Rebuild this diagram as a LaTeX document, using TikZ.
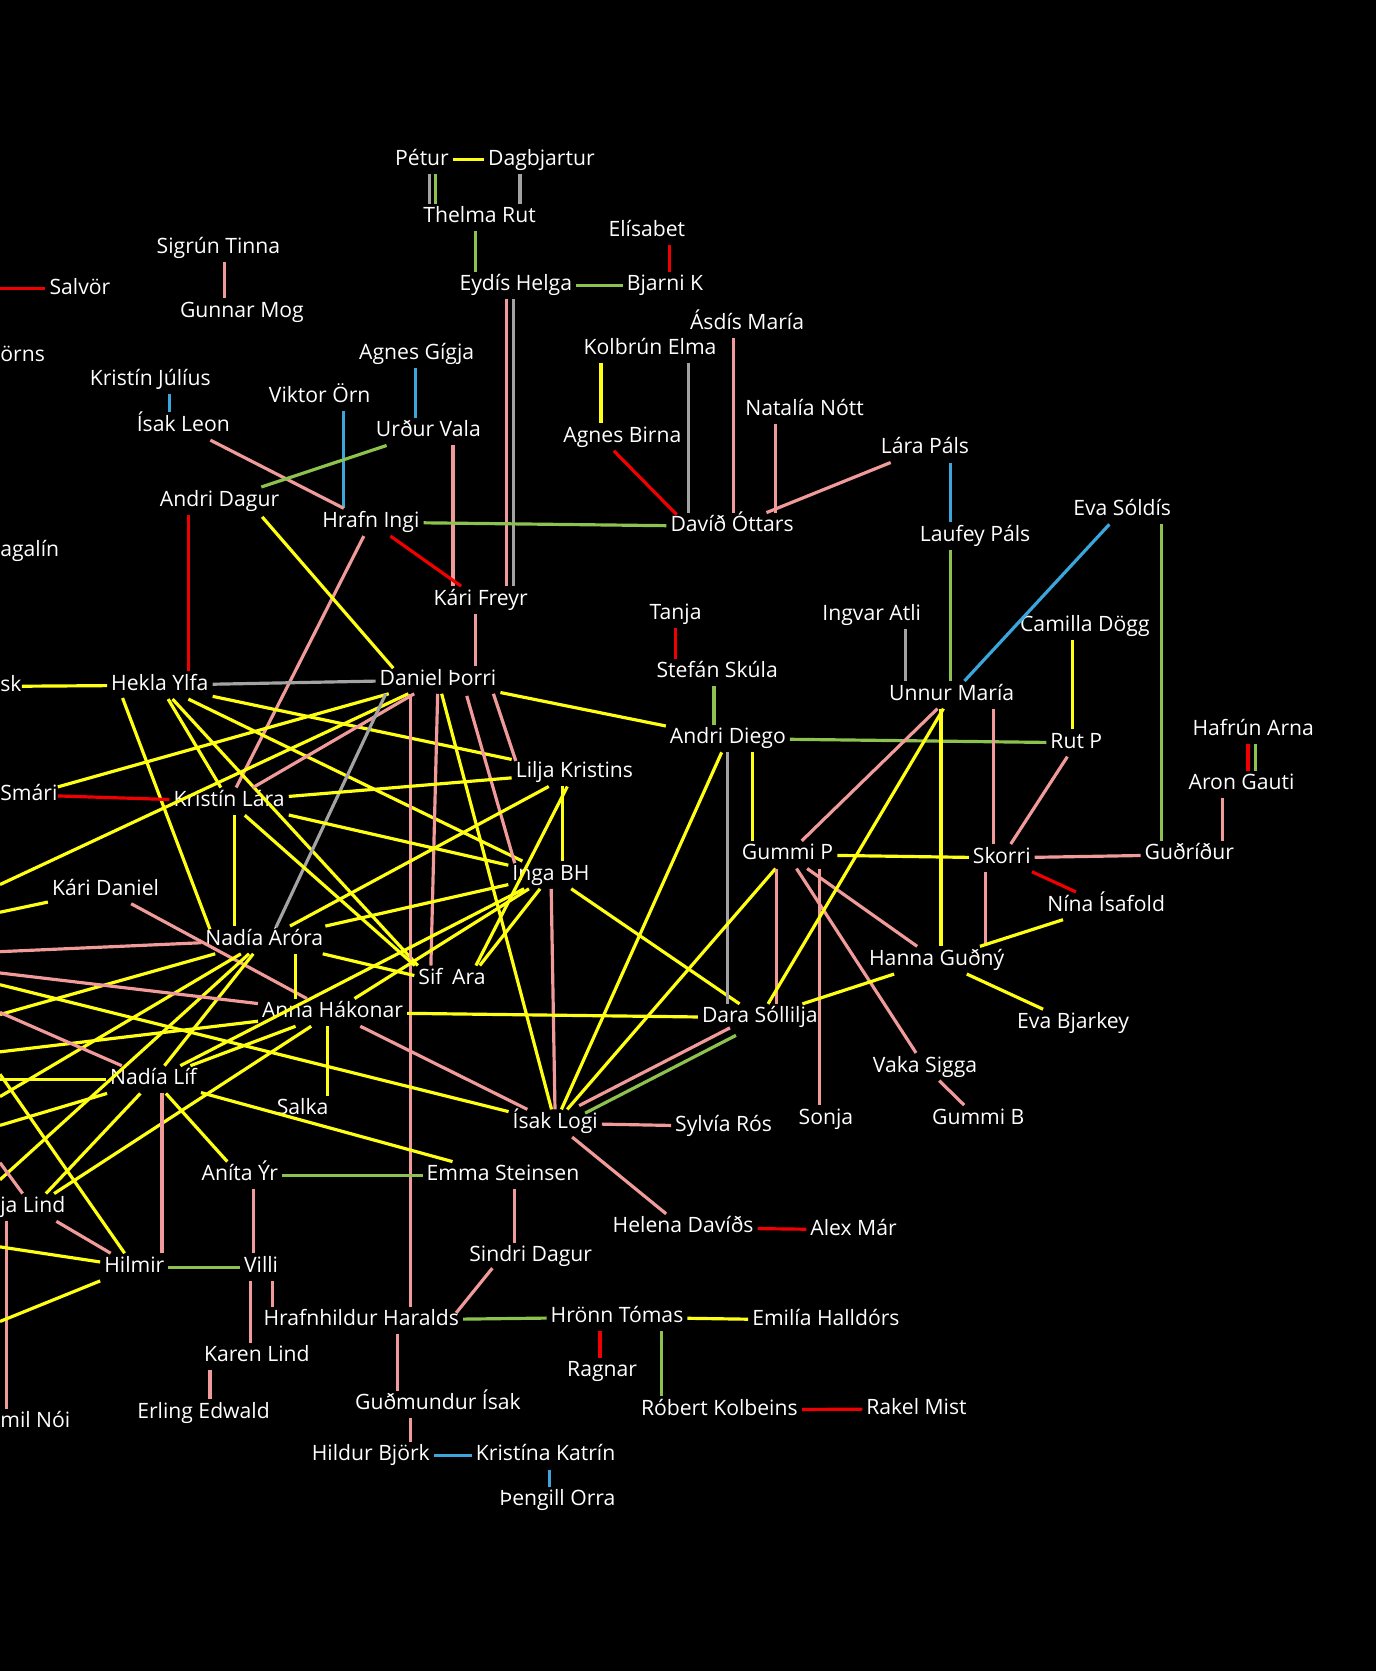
\documentclass[tikz,border=0pt]{standalone}
\usepackage{fontspec}
\setmainfont{Open Sans}
\usepackage{xcolor}
\usetikzlibrary{calc}
\definecolor{ylw}{HTML}{FFFF14}
\definecolor{pnk}{HTML}{F09A9A}
\definecolor{rdx}{HTML}{F00000}
\definecolor{grn}{HTML}{8DC24F}
\definecolor{gry}{HTML}{A3A3A3}
\definecolor{blu}{HTML}{3AA6DC}
\tikzset{
  nm/.style={text=white,font=\fontsize{11.3}{13}\selectfont,inner sep=2pt,text height=8pt,text depth=2.4pt},
  lft/.style={nm,anchor=west,inner xsep=0pt},
  ye/.style={ylw,line width=1.7pt},
  pk/.style={pnk,line width=1.7pt},
  rd/.style={rdx,line width=1.7pt},
  gn/.style={grn,line width=1.7pt},
  gy/.style={gry,line width=1.7pt},
  bl/.style={blu,line width=1.7pt}
}
\newcommand{\vln}[4]{%
  \coordinate (vt) at ([xshift=#4*0.02cm]#2.south);
  \draw[#1] (vt) -- (vt |- #3.north);}
\newcommand{\lnk}[5]{\draw[#1] ($(#2)+(#3)$) -- ($(#4)+(#5)$);}
\begin{document}
\begin{tikzpicture}[x=0.02cm,y=-0.02cm]
\useasboundingbox (0,0) rectangle (1291,1568);
\fill[black] (-10,-10) rectangle (1301,1578);
\node[nm] (petur) at (396,150) {Pétur};
\node[nm] (dagbj) at (508,150) {Dagbjartur};
\node[nm] (thelma) at (450,204) {Thelma Rut};
\node[nm] (elisa) at (607,217) {Elísabet};
\node[nm] (eydis) at (484,268) {Eydís Helga};
\node[nm] (bjarni) at (624,268) {Bjarni K};
\node[nm] (sigrun) at (205,233) {Sigrún Tinna};
\node[nm] (gunnar) at (227,293) {Gunnar Mog};
\node[nm] (salvor) at (75,271) {Salvör};
\node[lft] (orns) at (0,334) {örns};
\node[nm] (kjul) at (141,357) {Kristín Júlíus};
\node[nm] (ileon) at (172,400) {Ísak Leon};
\node[nm] (agigja) at (391,332) {Agnes Gígja};
\node[nm] (viktor) at (300,373) {Viktor Örn};
\node[nm] (urdur) at (402,405) {Urður Vala};
\node[nm] (adagur) at (206,470) {Andri Dagur};
\node[nm] (hrafn) at (348,490) {Hrafn Ingi};
\node[lft] (agalin) at (0,517) {agalín};
\node[nm] (kfreyr) at (451,563) {Kári Freyr};
\node[nm] (kolb) at (610,328) {Kolbrún Elma};
\node[nm] (asdis) at (701,304) {Ásdís María};
\node[nm] (abirna) at (584,410) {Agnes Birna};
\node[nm] (natalia) at (755,385) {Natalía Nótt};
\node[nm] (lara) at (868,421) {Lára Páls};
\node[nm] (david) at (687,494) {Davíð Óttars};
\node[nm] (laufey) at (915,503) {Laufey Páls};
\node[nm] (evas) at (1053,479) {Eva Sóldís};
\node[nm] (tanja) at (634,576) {Tanja};
\node[nm] (ingvar) at (818,577) {Ingvar Atli};
\node[nm] (camilla) at (1018,588) {Camilla Dögg};
\node[nm] (stefan) at (673,631) {Stefán Skúla};
\node[nm] (unnur) at (893,652) {Unnur María};
\node[nm] (dthorri) at (411,638) {Daniel Þorri};
\node[nm] (hekla) at (150,643) {Hekla Ylfa};
\node[lft] (sk) at (0,644) {sk};
\node[nm] (adiego) at (683,693) {Andri Diego};
\node[nm] (rutp) at (1010,697) {Rut P};
\node[nm] (hafrun) at (1176,685) {Hafrún Arna};
\node[nm] (aron) at (1165,736) {Aron Gauti};
\node[nm] (lilja) at (539,725) {Lilja Kristins};
\node[lft] (smari) at (0,746) {Smári};
\node[nm] (klara) at (215,752) {Kristín Lára};
\node[nm] (gummip) at (739,802) {Gummi P};
\node[nm] (skorri) at (940,805) {Skorri};
\node[nm] (gudrid) at (1116,802) {Guðríður};
\node[nm] (inga) at (517,821) {Inga BH};
\node[nm] (kdaniel) at (99,835) {Kári Daniel};
\node[nm] (nina) at (1038,850) {Nína Ísafold};
\node[nm] (narora) at (248,882) {Nadía Áróra};
\node[nm] (hanna) at (879,901) {Hanna Guðný};
\node[nm] (sif) at (404,919) {Sif};
\node[nm] (ara) at (440,919) {Ara};
\node[nm] (anna) at (312,950) {Anna Hákonar};
\node[nm] (dara) at (713,955) {Dara Sóllilja};
\node[nm] (evab) at (1007,960) {Eva Bjarkey};
\node[nm] (vaka) at (868,1001) {Vaka Sigga};
\node[nm] (nlif) at (144,1013) {Nadía Líf};
\node[nm] (salka) at (284,1041) {Salka};
\node[nm] (ilogi) at (521,1054) {Ísak Logi};
\node[nm] (sylvia) at (679,1057) {Sylvía Rós};
\node[nm] (sonja) at (775,1050) {Sonja};
\node[nm] (gummib) at (918,1050) {Gummi B};
\node[nm] (anita) at (225,1103) {Aníta Ýr};
\node[nm] (emma) at (472,1103) {Emma Steinsen};
\node[lft] (jalind) at (0,1133) {ja Lind};
\node[nm] (helena) at (641,1152) {Helena Davíðs};
\node[nm] (alex) at (801,1154) {Alex Már};
\node[nm] (sindri) at (498,1179) {Sindri Dagur};
\node[nm] (hilmir) at (126,1189) {Hilmir};
\node[nm] (villi) at (245,1189) {Villi};
\node[nm] (hrafnh) at (339,1239) {Hrafnhildur Haralds};
\node[nm] (hronn) at (579,1236) {Hrönn Tómas};
\node[nm] (emilia) at (775,1239) {Emilía Halldórs};
\node[nm] (ragnar) at (565,1287) {Ragnar};
\node[nm] (karen) at (241,1273) {Karen Lind};
\node[nm] (erling) at (191,1326) {Erling Edwald};
\node[nm] (gudmi) at (411,1318) {Guðmundur Ísak};
\node[nm] (robert) at (675,1323) {Róbert Kolbeins};
\node[nm] (rakel) at (860,1322) {Rakel Mist};
\node[lft] (milnoi) at (0,1335) {mil Nói};
\node[nm] (hildur) at (348,1366) {Hildur Björk};
\node[nm] (kkatrin) at (512,1366) {Kristína Katrín};
\node[nm] (thengill) at (523,1408) {Þengill Orra};
\coordinate (oSalvor) at (0,271);
\coordinate (oDT) at (0,830);
\coordinate (oKD) at (0,856);
\coordinate (oNA1) at (0,893);
\coordinate (oAH1) at (0,913);
\coordinate (oIL) at (0,924);
\coordinate (oNL1) at (0,950);
\coordinate (oNA2) at (0,952);
\coordinate (oAH2) at (0,987);
\coordinate (oHI1) at (0,1008);
\coordinate (oNL2) at (0,1013);
\coordinate (oNA3) at (0,1029);
\coordinate (oNL3) at (0,1056);
\coordinate (oJL) at (0,1091);
\coordinate (oNA4) at (0,1107);
\coordinate (oHI2) at (0,1170);
\coordinate (oHI3) at (0,1240);
\draw[ye] (petur) -- (dagbj);
\vln{gy}{petur}{thelma}{7}
\vln{gn}{petur}{thelma}{13}
\vln{gy}{dagbj}{thelma}{-20}
\vln{gn}{thelma}{eydis}{-4}
\vln{rd}{elisa}{bjarni}{21}
\draw[gn] (eydis) -- (bjarni);
\vln{pk}{eydis}{kfreyr}{-9}
\vln{gy}{eydis}{kfreyr}{-2}
\vln{pk}{sigrun}{gunnar}{6}
\draw[rd] (salvor) -- (oSalvor);
\vln{bl}{kjul}{ileon}{18}
\vln{bl}{agigja}{urdur}{-1}
\vln{bl}{viktor}{hrafn}{22}
\draw[pk] (ileon) -- (hrafn);
\draw[gn] (urdur) -- (adagur);
\vln{pk}{urdur}{kfreyr}{23}
\draw[gn] (hrafn) -- (david);
\draw[rd] (hrafn) -- (kfreyr);
\draw[pk] (hrafn) -- (klara);
\vln{rd}{adagur}{hekla}{-29}
\lnk{ye}{adagur}{40,15}{dthorri}{-42,-11}
\vln{ye}{kolb}{abirna}{-46}
\vln{gy}{kolb}{david}{36}
\vln{pk}{asdis}{david}{-13}
\vln{pk}{natalia}{david}{-27}
\draw[pk] (lara) -- (david);
\lnk{rd}{abirna}{-8,13}{david}{-52,-11}
\vln{bl}{lara}{laufey}{24}
\vln{gn}{laufey}{unnur}{-23}
\draw[bl] (evas) -- (unnur);
\vln{gn}{evas}{gudrid}{37}
\vln{pk}{kfreyr}{dthorri}{-5}
\vln{rd}{tanja}{stefan}{0}
\vln{gn}{stefan}{adiego}{-3}
\vln{gy}{ingvar}{unnur}{32}
\vln{ye}{camilla}{rutp}{-12}
\draw[gn] (adiego) -- (rutp);
\vln{rd}{hafrun}{aron}{-5}
\vln{gn}{hafrun}{aron}{2}
\vln{pk}{aron}{gudrid}{-18}
\draw[gy] (hekla) -- (dthorri);
\draw[ye] (hekla) -- (sk);
\lnk{ye}{hekla}{-35,12}{narora}{-51,-10}
\draw[ye] (hekla) -- (klara);
\draw[ye] (hekla) -- (lilja);
\draw[ye] (hekla) -- (inga);
\draw[ye] (hekla) -- (sif);
\draw[rd] (smari) -- (klara);
\draw[ye] (smari) -- (dthorri);
\draw[ye] (dthorri) -- (oDT);
\draw[pk] (dthorri) -- (klara);
\lnk{gy}{dthorri}{-49,13}{narora}{11,-12}
\vln{pk}{dthorri}{hrafnh}{-26}
\draw[pk] (dthorri) -- (sif);
\draw[ye] (dthorri) -- (ilogi);
\lnk{pk}{dthorri}{27,15}{inga}{-34,-11}
\lnk{pk}{dthorri}{52,13}{lilja}{-55,-11}
\draw[ye] (dthorri) -- (adiego);
\draw[ye] (klara) -- (lilja);
\draw[ye] (klara) -- (inga);
\draw[ye] (klara) -- (sif);
\vln{ye}{klara}{narora}{5}
\vln{ye}{lilja}{inga}{-11}
\draw[ye] (lilja) -- (narora);
\draw[ye] (lilja) -- (ara);
\draw[ye] (inga) -- (ara);
\draw[ye] (inga) -- (narora);
\draw[ye] (inga) -- (anna);
\draw[ye] (inga) -- (nlif);
\draw[ye] (inga) -- (dara);
\draw[pk] (inga) -- (ilogi);
\draw[ye] (kdaniel) -- (oKD);
\draw[pk] (kdaniel) -- (anna);
\draw[pk] (narora) -- (oNA1);
\draw[ye] (narora) -- (oNA2);
\draw[ye] (narora) -- (oNA3);
\draw[ye] (narora) -- (oNA4);
\draw[ye] (narora) -- (nlif);
\draw[ye] (narora) -- (sif);
\vln{ye}{narora}{anna}{29}
\draw[pk] (anna) -- (oAH1);
\draw[ye] (anna) -- (oAH2);
\draw[ye] (anna) -- (nlif);
\draw[ye] (anna) -- (jalind);
\vln{ye}{anna}{salka}{-5}
\draw[ye] (anna) -- (dara);
\draw[pk] (anna) -- (ilogi);
\draw[ye] (ilogi) -- (oIL);
\draw[pk] (nlif) -- (oNL1);
\draw[ye] (nlif) -- (oNL2);
\draw[ye] (nlif) -- (oNL3);
\draw[ye] (nlif) -- (jalind);
\vln{pk}{nlif}{hilmir}{8}
\draw[ye] (nlif) -- (anita);
\draw[ye] (nlif) -- (emma);
\draw[pk] (jalind) -- (oJL);
\draw[pk] (jalind) -- (hilmir);
\coordinate (vt) at ([xshift=6*0.02cm]jalind.south west);
\draw[pk] (vt) -- (vt |- milnoi.north);
\draw[ye] (hilmir) -- (oHI1);
\draw[ye] (hilmir) -- (oHI2);
\draw[ye] (hilmir) -- (oHI3);
\draw[gn] (hilmir) -- (villi);
\vln{pk}{anita}{villi}{13}
\draw[gn] (anita) -- (emma);
\vln{pk}{villi}{hrafnh}{11}
\vln{pk}{villi}{karen}{-10}
\vln{pk}{karen}{erling}{-44}
\vln{pk}{emma}{sindri}{11}
\lnk{pk}{sindri}{-36,11}{hrafnh}{89,-7}
\draw[gn] (hrafnh) -- (hronn);
\vln{pk}{hrafnh}{gudmi}{34}
\vln{pk}{gudmi}{hildur}{-26}
\draw[bl] (hildur) -- (kkatrin);
\vln{bl}{kkatrin}{thengill}{4}
\draw[ye] (hronn) -- (emilia);
\vln{rd}{hronn}{ragnar}{-16}
\vln{gn}{hronn}{robert}{42}
\draw[rd] (robert) -- (rakel);
\draw[pk] (ilogi) -- (sylvia);
\draw[pk] (ilogi) -- (helena);
\draw[rd] (helena) -- (alex);
\vln{gy}{adiego}{dara}{0}
\vln{ye}{adiego}{gummip}{23}
\draw[ye] (adiego) -- (ilogi);
\draw[ye] (gummip) -- (ilogi);
\draw[ye] (gummip) -- (skorri);
\draw[pk] (gummip) -- (unnur);
\vln{pk}{gummip}{dara}{-10}
\vln{pk}{gummip}{sonja}{30}
\draw[pk] (gummip) -- (vaka);
\draw[pk] (gummip) -- (hanna);
\draw[ye] (unnur) -- (dara);
\vln{ye}{unnur}{hanna}{-10}
\vln{pk}{unnur}{skorri}{39}
\draw[pk] (rutp) -- (skorri);
\draw[pk] (skorri) -- (gudrid);
\draw[rd] (skorri) -- (nina);
\vln{pk}{skorri}{hanna}{-15}
\draw[ye] (hanna) -- (nina);
\draw[ye] (hanna) -- (evab);
\draw[ye] (hanna) -- (dara);
\draw[pk] (vaka) -- (gummib);
\draw[pk,transform canvas={xshift=-1.6pt,yshift=2pt}] (dara) -- (ilogi);
\draw[gn,transform canvas={xshift=1.6pt,yshift=-2pt}] (dara) -- (ilogi);
\end{tikzpicture}
\end{document}
